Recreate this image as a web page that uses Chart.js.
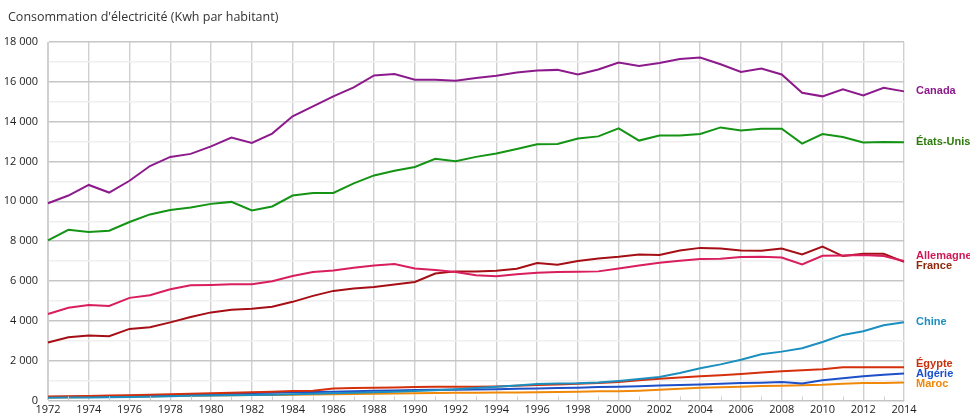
<!DOCTYPE html>
<html lang="fr">
<head>
<meta charset="utf-8">
<script src="https://cdn.jsdelivr.net/npm/chart.js@4.4.1/dist/chart.umd.min.js"></script>
<style>
  html, body { margin: 0; padding: 0; background: #fff; }
  #wrap { width: 970px; height: 417px; position: relative; }
</style>
</head>
<body>
<div id="wrap"><canvas id="elecChart" width="970" height="417"></canvas></div>
<script>
// Consommation d'électricité (kWh par habitant), 1972-2014
const years = [1972, 1973, 1974, 1975, 1976, 1977, 1978, 1979, 1980, 1981, 1982, 1983, 1984, 1985,
    1986, 1987, 1988, 1989, 1990, 1991, 1992, 1993, 1994, 1995, 1996, 1997, 1998, 1999, 2000,
    2001, 2002, 2003, 2004, 2005, 2006, 2007, 2008, 2009, 2010, 2011, 2012, 2013, 2014];

const canada = [9900, 10290, 10820, 10440, 11030, 11770, 12230, 12380, 12760, 13200, 12930, 13400, 14270, 14770,
    15270, 15720, 16320, 16390, 16100, 16100, 16050, 16190, 16310, 16470, 16570, 16600, 16370, 16620, 16970,
    16800, 16950, 17150, 17220, 16880, 16500, 16670, 16370, 15450, 15270, 15620, 15320, 15700, 15520];

const etatsUnis = [8040, 8570, 8460, 8520, 8960, 9340, 9560, 9690, 9870, 9970, 9540, 9740, 10290, 10420,
    10420, 10900, 11300, 11530, 11720, 12130, 12010, 12230, 12400, 12630, 12860, 12880, 13150, 13260, 13660,
    13050, 13300, 13300, 13380, 13710, 13560, 13640, 13640, 12900, 13380, 13230, 12950, 12980, 12960];

const allemagne = [4340, 4650, 4790, 4740, 5150, 5280, 5580, 5780, 5800, 5830, 5830, 5980, 6250, 6450,
    6530, 6660, 6780, 6850, 6630, 6550, 6450, 6280, 6240, 6330, 6410, 6450, 6460, 6480, 6630,
    6780, 6910, 7010, 7100, 7110, 7200, 7210, 7180, 6830, 7260, 7280, 7300, 7250, 7000];

const france = [2910, 3170, 3260, 3220, 3590, 3670, 3920, 4190, 4420, 4550, 4600, 4700, 4950, 5250,
    5500, 5620, 5700, 5820, 5950, 6370, 6480, 6480, 6510, 6610, 6900, 6810, 7000, 7130, 7210,
    7330, 7300, 7530, 7660, 7630, 7530, 7510, 7630, 7330, 7730, 7250, 7360, 7360, 6960];

const chine = [130, 140, 145, 160, 165, 180, 210, 230, 250, 255, 270, 290, 310, 330,
    355, 385, 410, 440, 470, 510, 560, 620, 690, 750, 820, 850, 860, 900, 980,
    1070, 1180, 1380, 1610, 1810, 2040, 2320, 2450, 2620, 2930, 3290, 3470, 3770, 3930];

const egypte = [200, 210, 225, 240, 260, 290, 310, 330, 360, 380, 410, 440, 470, 480,
    600, 620, 630, 650, 670, 680, 680, 690, 700, 730, 770, 800, 830, 880, 930,
    1010, 1090, 1150, 1210, 1260, 1320, 1400, 1470, 1520, 1560, 1670, 1670, 1660, 1660];

const algerie = [170, 180, 190, 210, 230, 250, 270, 290, 320, 340, 370, 390, 410, 420,
    440, 460, 480, 500, 520, 530, 540, 550, 560, 580, 600, 620, 640, 670, 680,
    710, 750, 770, 800, 840, 870, 890, 930, 850, 1010, 1110, 1210, 1290, 1350];

const maroc = [150, 160, 170, 180, 195, 210, 220, 230, 245, 255, 265, 275, 290, 300,
    310, 320, 340, 350, 360, 370, 380, 390, 395, 400, 410, 420, 435, 455, 465,
    490, 530, 580, 630, 660, 690, 720, 740, 760, 780, 830, 870, 880, 900];

const seriesNames = ['Canada', 'États-Unis', 'Allemagne', 'France', 'Chine', 'Égypte', 'Algérie', 'Maroc'];
const seriesData = [canada, etatsUnis, allemagne, france, chine, egypte, algerie, maroc];
const seriesColors = ['#8c1a8c', '#149414', '#d81e5b', '#a50e14', '#1b8fc0', '#d4300c', '#1d4fc9', '#f0890a'];
const labelColors = ['#8c1a8c', '#2c7a0c', '#d01a55', '#8e2a08', '#1b8fc0', '#c8300c', '#1d4fc9', '#f0890a'];

function fmtNombre(v) {
    return String(v).replace(/\B(?=(\d{3})+(?!\d))/g, ' ');
}

// titre + étiquettes en bout de courbe
const annotations = {
    id: 'annotations',
    afterDraw(chart) {
        const ctx = chart.ctx;
        const area = chart.chartArea;
        const yScale = chart.scales.y;
        const xScale = chart.scales.x;

        ctx.save();
        // petites graduations des années impaires
        ctx.strokeStyle = '#cfcfcf';
        ctx.lineWidth = 1;
        years.forEach((yr, i) => {
            if (i % 2 === 1) {
                const x = Math.round(xScale.getPixelForValue(i)) + 0.5;
                ctx.beginPath();
                ctx.moveTo(x, area.bottom - 4);
                ctx.lineTo(x, area.bottom);
                ctx.stroke();
            }
        });

        ctx.fillStyle = '#333';
        ctx.font = '12.5px "Open Sans", sans-serif';
        ctx.textBaseline = 'middle';
        ctx.textAlign = 'left';
        ctx.fillText("Consommation d'électricité (Kwh par habitant)", 8, 17);

        // positions des étiquettes, écartées si elles se chevauchent
        const labels = seriesNames.map((name, i) => ({
            name: name,
            color: labelColors[i],
            y: yScale.getPixelForValue(seriesData[i][seriesData[i].length - 1])
        })).sort((a, b) => a.y - b.y);

        const gap = 10;
        let groups = labels.map(l => ({ items: [l], center: l.y }));
        let merged = true;
        while (merged) {
            merged = false;
            for (let g = 0; g < groups.length - 1; g++) {
                const a = groups[g], b = groups[g + 1];
                const aBottom = a.center + (a.items.length - 1) * gap / 2;
                const bTop = b.center - (b.items.length - 1) * gap / 2;
                if (bTop - aBottom < gap) {
                    const items = a.items.concat(b.items);
                    const center = items.reduce((s, it) => s + it.y, 0) / items.length;
                    groups.splice(g, 2, { items: items, center: center });
                    merged = true;
                    break;
                }
            }
        }

        ctx.font = 'bold 11px "Liberation Sans", Arial, sans-serif';
        groups.forEach(g => {
            const start = g.center - (g.items.length - 1) * gap / 2;
            g.items.forEach((it, k) => {
                ctx.fillStyle = it.color;
                ctx.fillText(it.name, area.right + 12, start + k * gap);
            });
        });
        ctx.restore();
    }
};

const ctx = document.getElementById('elecChart');

new Chart(ctx, {
    type: 'line',
    data: {
        labels: years,
        datasets: seriesNames.map((name, i) => ({
            label: name,
            data: seriesData[i],
            borderColor: seriesColors[i],
            backgroundColor: seriesColors[i],
            borderWidth: 2,
            pointRadius: 0,
            tension: 0,
            fill: false
        }))
    },
    options: {
        responsive: false,
        animation: false,
        layout: {
            padding: { top: 42, right: 66, left: 0, bottom: 0 }
        },
        plugins: {
            legend: { display: false },
            tooltip: { enabled: false },
            title: { display: false }
        },
        scales: {
            x: {
                type: 'category',
                offset: false,
                afterFit: function (scale) { scale.height = 13; },
                ticks: {
                    autoSkip: false,
                    maxRotation: 0,
                    padding: 3,
                    color: '#222',
                    font: { family: 'Open Sans', size: 11 },
                    callback: function (value, index) {
                        return index % 2 === 0 ? String(years[index]) : '';
                    }
                },
                grid: {
                    drawTicks: false,
                    lineWidth: 1.4,
                    color: function (c) {
                        return c.index % 2 === 0 ? '#d0d0d0' : 'rgba(0,0,0,0)';
                    }
                },
                border: { display: true, color: '#c4c4c4' }
            },
            y: {
                min: 0,
                max: 18000,
                afterFit: function (scale) { scale.width = 48; },
                ticks: {
                    stepSize: 1000,
                    padding: 10,
                    color: '#222',
                    font: { family: 'Open Sans', size: 11 },
                    callback: function (value) {
                        return value % 2000 === 0 ? fmtNombre(value) : '';
                    }
                },
                grid: {
                    drawTicks: false,
                    lineWidth: 1.4,
                    color: function (c) {
                        return c.tick && c.tick.value % 2000 === 0 ? '#c6c6c6' : '#efefef';
                    }
                },
                border: { display: true, color: '#d0d0d0' }
            }
        }
    },
    plugins: [annotations]
});
</script>
</body>
</html>
